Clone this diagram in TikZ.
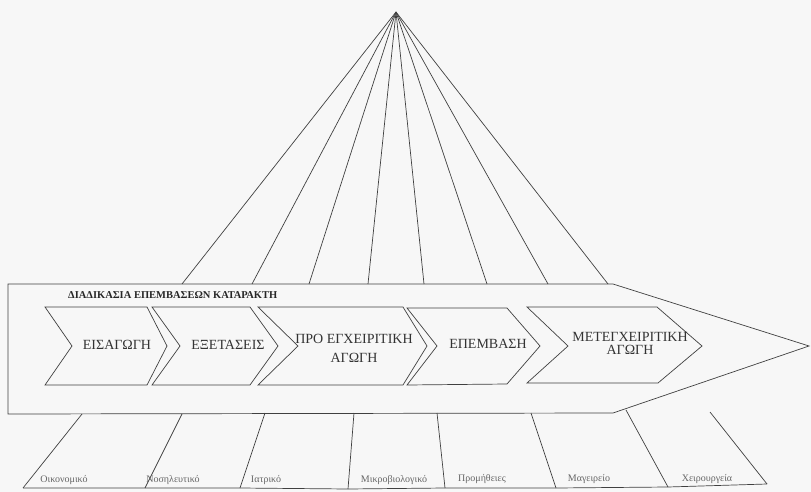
\documentclass[tikz,border=0pt]{standalone}
\usepackage{fontspec}
\setmainfont{Liberation Serif}
\begin{document}
\begin{tikzpicture}[x=1pt,y=-1pt,
  ln/.style={draw=black!75, line width=0.7pt},
  chev/.style={draw=black!75, line width=0.7pt, line join=miter},
  ctext/.style={font=\fontsize{14}{13}\selectfont, text=black!80, align=center, inner sep=0pt},
  ttl/.style={font=\fontsize{10.5}{12}\selectfont\bfseries, text=black!85, inner sep=0pt, anchor=west},
  lab/.style={font=\fontsize{10}{11}\selectfont, text=black!60, inner sep=0pt},
]
\fill[black!3] (0,0) rectangle (811,492);
\useasboundingbox (0,0) rectangle (811,492);
% apex and fan
\coordinate (apex) at (396,12);
\foreach \x [count=\i] in {182,252,309,368,424,487,548,608}
  \coordinate (t\i) at (\x,284);
\foreach \i in {1,...,8} \draw[ln] (apex) -- (t\i);
% big arrow
\coordinate (A1) at (8,284);
\coordinate (A2) at (613,284);
\coordinate (A3) at (809,346);
\coordinate (A4) at (613,413);
\coordinate (A5) at (8,414);
\draw[ln] (A1) -- (A2) -- (A3) -- (A4) -- (A5) -- cycle;
\node[ttl] (title) at (68,295) {ΔΙΑΔΙΚΑΣΙΑ ΕΠΕΜΒΑΣΕΩΝ ΚΑΤΑΡΑΚΤΗ};
% chevrons
\draw[chev] (45,307) -- (147,307) -- (167,346) -- (147,385) -- (45,385) -- (72,346) -- cycle;
\draw[chev] (152,307) -- (250,307) -- (278,346) -- (250,385) -- (152,385) -- (180,346) -- cycle;
\draw[chev] (258,307) -- (403,307) -- (427,346) -- (403,385) -- (258,385) -- (298,346) -- cycle;
\draw[chev] (407,308) -- (507,308) -- (540,346) -- (507,384) -- (407,385) -- (437,346) -- cycle;
\draw[chev] (527,307) -- (657,307) -- (702,346) -- (658,383) -- (527,383) -- (568,346) -- cycle;
\node[ctext] (c1) at (117,345) {ΕΙΣΑΓΩΓΗ};
\node[ctext] (c2) at (228,345) {ΕΞΕΤΑΣΕΙΣ};
\node[ctext] (c3) at (354,348) {ΠΡΟ ΕΓΧΕΙΡΙΤΙΚΗ\\[6pt]ΑΓΩΓΗ\hspace{32pt}};
\node[ctext] (c4) at (488,344) {ΕΠΕΜΒΑΣΗ};
\node[ctext] (c5) at (630,343) {ΜΕΤΕΓΧΕΙΡΙΤΙΚΗ\\ΑΓΩΓΗ\hspace{14pt}};
% bottom legs
\coordinate (b1) at (82,414);  \coordinate (f1) at (23,488);
\coordinate (b2) at (182,414); \coordinate (f2) at (145,488);
\coordinate (b3) at (265,413); \coordinate (f3) at (240,488);
\coordinate (b4) at (354,413); \coordinate (f4) at (348,489);
\coordinate (b5) at (437,413); \coordinate (f5) at (445,488);
\coordinate (b6) at (531,413); \coordinate (f6) at (556,488);
\coordinate (b7) at (626,410); \coordinate (f7) at (668,487);
\coordinate (b8) at (710,412); \coordinate (f8) at (767,484);
\foreach \i in {1,...,8} \draw[ln] (b\i) -- (f\i);
\draw[ln] (f1) -- (f2) -- (f3) -- (f4) -- (f5) -- (f6) -- (f7) -- (f8);
% labels
\node[lab] (l1) at (64,480) {Οικονομικό};
\node[lab] (l2) at (173,480) {Νοσηλευτικό};
\node[lab] (l3) at (266,480) {Ιατρικό};
\node[lab] (l4) at (394,480) {Μικροβιολογικό};
\node[lab] (l5) at (482,479) {Προμήθειες};
\node[lab] (l6) at (589,479) {Μαγειρείο};
\node[lab] (l7) at (707,479) {Χειρουργεία};
\end{tikzpicture}
\end{document}
